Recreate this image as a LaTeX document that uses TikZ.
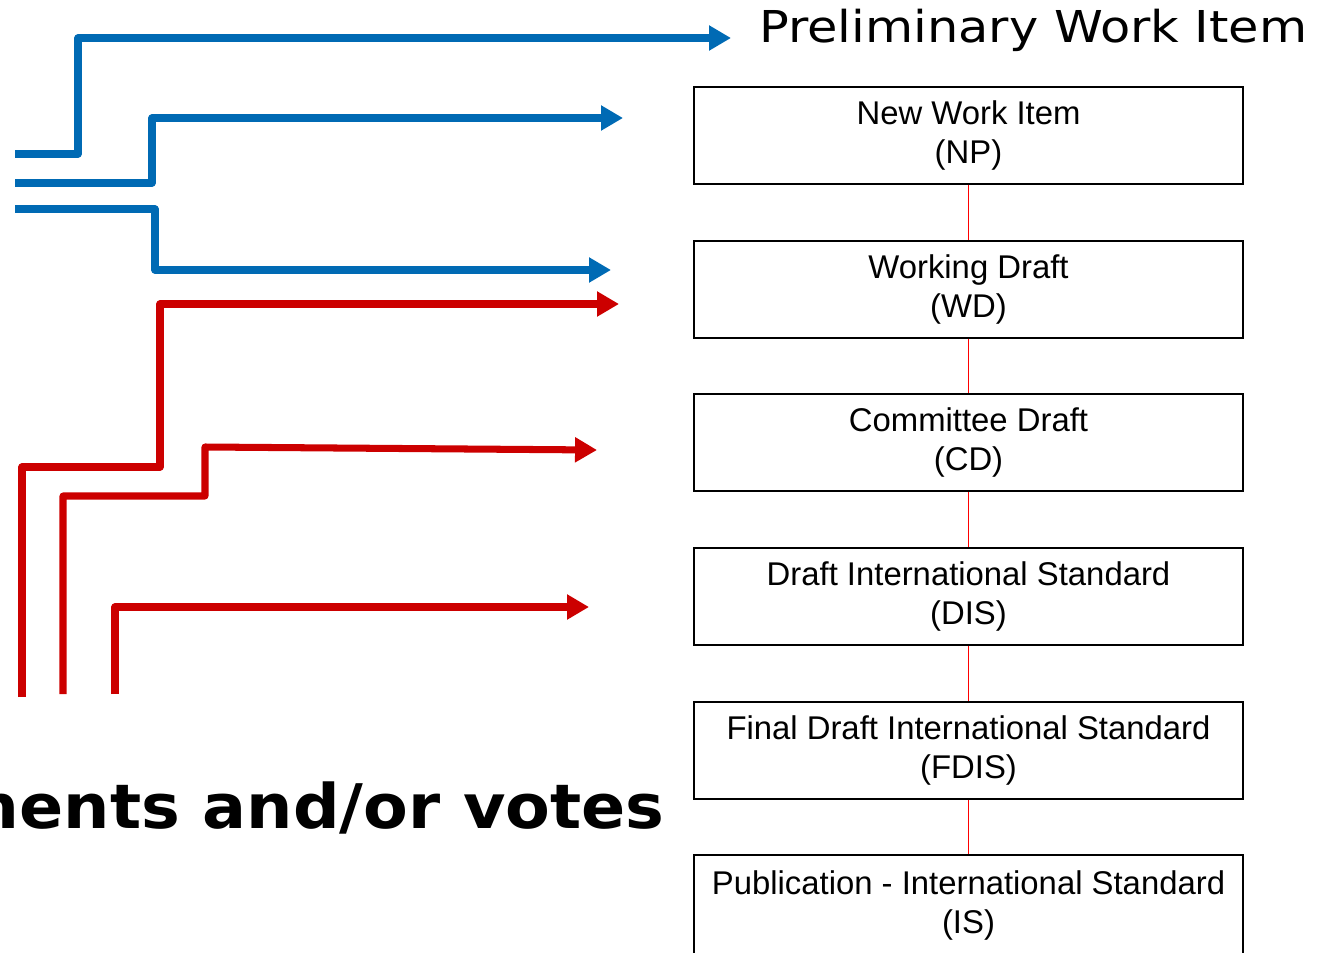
\documentclass[tikz,border=0pt]{standalone}
\usepackage{fontspec}
\setmainfont{Liberation Sans}
\newfontfamily\titlefont[FakeStretch=1.125]{DejaVu Sans}
\newfontfamily\votesfont[FakeStretch=1.06]{DejaVu Sans}
\usetikzlibrary{positioning,arrows.meta}
\definecolor{isoblue}{RGB}{0,106,180}
\definecolor{isored}{RGB}{204,0,0}
\begin{document}
\begin{tikzpicture}[x=0.02cm, y=-0.02cm, node distance=1.095cm]
        \tikzstyle{stage}=[draw, line width=1.1pt, fill=white, minimum width=10.98cm, minimum height=1.94cm, align=center, inner sep=0pt, font=\fontsize{18.7}{22.3}\selectfont]
        \tikzstyle{blueflow}=[isoblue, line width=4pt, line join=round, -{Triangle[length=12.5pt,width=13.6pt]}]
        \tikzstyle{redflow}=[blueflow, isored]
        \tikzstyle{link}=[red, line width=0.85pt]
        \clip (0,0) rectangle (1322,953);
        \node [stage] (np) at (968.5,135.5) {New Work Item\\(NP)};
        \node [stage, below=of np] (wd) {Working Draft\\(WD)};
        \node [stage, below=of wd] (cd) {Committee Draft\\(CD)};
        \node [stage, below=of cd] (dis) {Draft International Standard\\(DIS)};
        \node [stage, below=of dis] (fdis) {Final Draft International Standard\\(FDIS)};
        \node [stage, below=of fdis, minimum height=2.02cm] (is) {Publication - International Standard\\(IS)};
        \draw [link] (np) -- (wd);
        \draw [link] (wd) -- (cd);
        \draw [link] (cd) -- (dis);
        \draw [link] (dis) -- (fdis);
        \draw [link] (fdis) -- (is);
        \node [anchor=base west, inner sep=0pt, font=\titlefont\fontsize{25}{30}\selectfont] (pwi) at (759,43) {Preliminary Work Item};
        \node [anchor=base east, inner sep=0pt, font=\votesfont\bfseries\fontsize{35}{42}\selectfont] (votes) at (665,828) {Comments and/or votes};
        \coordinate (b1s) at (15,154);
        \coordinate (b1e) at (731,38);
        \coordinate (b2s) at (15,183);
        \coordinate (b2e) at (623,118);
        \coordinate (b3s) at (15,209);
        \coordinate (b3e) at (611,270);
        \coordinate (r1s) at (22,697);
        \coordinate (r1e) at (619,304);
        \coordinate (r2s) at (63,694);
        \coordinate (r2e) at (597,450);
        \coordinate (r3s) at (115,694);
        \coordinate (r3e) at (589,607);
        \draw [blueflow] (b1s) -- (78,154) |- (b1e);
        \draw [blueflow] (b2s) -- (152,183) |- (b2e);
        \draw [blueflow] (b3s) -- (155,209) |- (b3e);
        \draw [redflow] (r1s) |- (160,467) |- (r1e);
        \draw [redflow] (r2s) |- (205,496) -- (205,447) -- (r2e);
        \draw [redflow] (r3s) |- (r3e);
\end{tikzpicture}
\end{document}
